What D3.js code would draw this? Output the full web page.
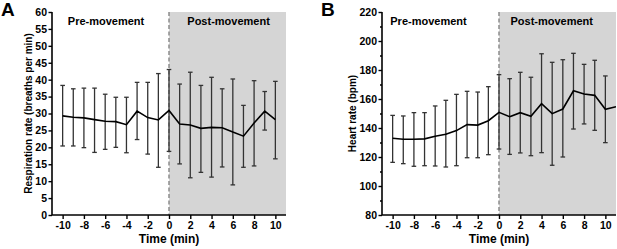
<!DOCTYPE html>
<html><head><meta charset="utf-8">
<script src="https://cdn.jsdelivr.net/npm/d3@7"></script>
<style>body{margin:0;background:#fff}svg{display:block}text{font-family:"Liberation Sans",Arial,sans-serif;font-weight:bold}</style>
</head><body>
<svg id="c" width="617" height="249"></svg>
<script>
// ---- data ----
const timesA = [-10,-9,-8,-7,-6,-5,-4,-3,-2,-1,0,1,2,3,4,5,6,7,8,9,10];
const respMean = [29.3,28.9,28.7,28.2,27.7,27.6,26.7,30.7,28.8,28.1,30.9,26.9,26.6,25.6,25.9,25.8,24.5,23.3,27.2,30.7,28.2];
const respUpper = [38.3,37.3,37.5,37.5,35.7,34.8,34.8,39.2,39.2,41.8,43.0,38.7,42.2,38.3,40.7,37.3,40.2,32.4,39.7,36.5,39.5];
const respLower = [20.4,20.4,19.9,18.5,19.4,20.0,18.4,22.3,18.0,14.1,18.8,15.1,11.0,12.6,11.2,14.2,8.9,14.1,14.5,25.1,16.6];

const timesB = [-10,-9,-8,-7,-6,-5,-4,-3,-2,-1,0,1,2,3,4,5,6,7,8,9,10,11];
const hrMean = [132.9,132.2,132.2,132.5,134.3,135.7,138.2,142.3,142.0,145.0,150.8,147.8,150.6,148.1,156.8,149.9,153.1,165.7,163.4,162.5,152.9,154.7];
const hrUpper = [148.7,148.3,150.6,150.6,155.2,159.1,163.2,165.3,164.8,168.5,176.8,174.0,178.4,175.0,191.2,185.3,187.1,191.5,183.9,186.7,175.9,null];
const hrLower = [116.3,115.4,113.6,114.0,113.8,113.1,114.0,119.5,119.5,121.6,125.5,121.8,122.8,120.9,123.0,114.3,120.0,139.3,142.8,138.4,129.9,null];

const xTicks = [-10,-8,-6,-4,-2,0,2,4,6,8,10];
const respTicks = [0,5,10,15,20,25,30,35,40,45,50,55,60];
const hrTicks = [80,100,120,140,160,180,200,220];
const hrMinor = [90,110,130,150,170,190,210];
const xDomain = [-11, 11];
const phaseLabels = ["Pre-movement","Post-movement"];

const svg = d3.select("#c");

function panel(o){
  const g = svg.append("g");
  const x = d3.scaleLinear().domain(xDomain).range([o.left, o.right]);
  const y = d3.scaleLinear().domain(o.yDomain).range([o.bottom, o.top]);
  const cid = "clip"+o.letter;
  g.append("clipPath").attr("id",cid).append("rect")
    .attr("x",o.left).attr("y",o.top-2).attr("width",o.right-o.left).attr("height",o.bottom-o.top+4);
  g.append("rect").attr("x",x(0)).attr("y",y(o.yDomain[1])).attr("width",x(xDomain[1])-x(0))
    .attr("height",y(o.yDomain[0])-y(o.yDomain[1])).attr("fill","#d5d5d5");
  g.append("line").attr("x1",x(0)).attr("x2",x(0)).attr("y1",y(o.yDomain[1])).attr("y2",y(o.yDomain[0]))
    .attr("stroke","#8c8c8c").attr("stroke-width",1.5).attr("stroke-dasharray","4,2.5");
  g.append("text").attr("x",x(o.preX)).attr("y",o.top+13).attr("text-anchor","middle")
    .attr("font-size",11).text(phaseLabels[0]);
  g.append("text").attr("x",x(o.postX)).attr("y",o.top+13).attr("text-anchor","middle")
    .attr("font-size",11).text(phaseLabels[1]);
  const pd = o.t.map((t,i)=>({t, m:o.mean[i], u:o.up[i], l:o.lo[i]}));
  const pl = g.append("g").attr("clip-path",`url(#${cid})`);
  const eb = pd.filter(d=>d.u!=null);
  pl.selectAll(".eb").data(eb).join("line").attr("x1",d=>x(d.t)).attr("x2",d=>x(d.t))
    .attr("y1",d=>y(d.u)).attr("y2",d=>y(d.l)).attr("stroke","#333").attr("stroke-width",1.3);
  ["u","l"].forEach(k=>{
    pl.selectAll(".cap"+k).data(eb).join("line").attr("x1",d=>x(d.t)-2.3).attr("x2",d=>x(d.t)+2.3)
      .attr("y1",d=>y(d[k])).attr("y2",d=>y(d[k])).attr("stroke","#333").attr("stroke-width",1.3);
  });
  pl.append("path").datum(pd).attr("fill","none").attr("stroke","#000").attr("stroke-width",1.6)
    .attr("d",d3.line().x(d=>x(d.t)).y(d=>y(d.m)));
  const ya = g.append("g").attr("transform",`translate(${o.left},0)`)
    .call(d3.axisLeft(y).tickValues(o.yTicks).tickSize(3.5).tickPadding(1.5));
  if(o.yMinor){
    g.append("g").attr("transform",`translate(${o.left},0)`)
      .call(d3.axisLeft(y).tickValues(o.yMinor).tickSize(2).tickFormat(""))
      .call(s=>s.select(".domain").remove());
  }
  const xa = g.append("g").attr("transform",`translate(0,${o.bottom})`)
    .call(d3.axisBottom(x).tickValues(xTicks).tickSize(4).tickPadding(3).tickFormat(d=>d<0?"-"+Math.abs(d):d));
  [ya,xa].forEach(a=>{
    a.select(".domain").attr("stroke-width",1.6);
    a.selectAll("text").attr("font-size",10.5).attr("fill","#000").attr("font-family",'"Liberation Sans",Arial,sans-serif').attr("font-weight","bold");
  });
  g.selectAll(".tick line").attr("stroke-width",1.4);
  xa.select(".domain").attr("d",`M${o.left},0H${o.right}`);
  ya.select(".domain").attr("d",`M0,${o.bottom}V${o.top}`);
  g.append("text").attr("x",x(0)).attr("y",243).attr("text-anchor","middle").attr("font-size",12).text("Time (min)");
  g.append("text").attr("transform",`translate(${o.yLabelX},${(o.top+o.bottom)/2}) rotate(-90)`)
    .attr("text-anchor","middle").attr("font-size",o.yLabelSize).text(o.yLabel);
  g.append("text").attr("x",o.letterX).attr("y",16).attr("font-size",19).text(o.letter);
}

panel({letter:"A",letterX:1,left:52,right:286,top:12,bottom:215,yDomain:[0,60],yTicks:respTicks,preX:-5.92,postX:5.6,
  t:timesA,mean:respMean,up:respUpper,lo:respLower,yLabel:"Respiration rate (breaths per min)",yLabelX:32,yLabelSize:10});
panel({letter:"B",letterX:321,left:382,right:616,top:12,bottom:215,yDomain:[80,220],yTicks:hrTicks,yMinor:hrMinor,preX:-6.63,postX:4.96,
  t:timesB,mean:hrMean,up:hrUpper,lo:hrLower,yLabel:"Heart rate (bpm)",yLabelX:356,yLabelSize:10});
</script>
</body></html>
